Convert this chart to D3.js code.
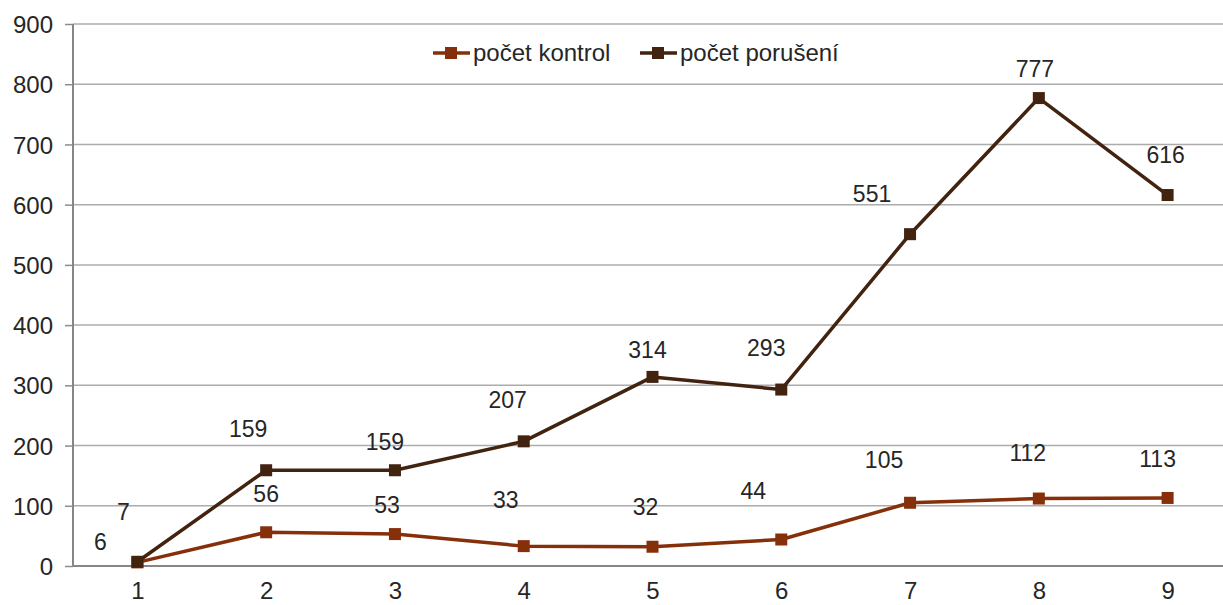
<!DOCTYPE html>
<html>
<head>
<meta charset="utf-8">
<script src="https://cdn.jsdelivr.net/npm/d3@7"></script>
<style>
  body { margin: 0; background: #fff; }
  text { font-family: "Liberation Sans", Arial, sans-serif; fill: #262626; }
</style>
</head>
<body>
<div id="chart"></div>
<script>
// data
var categories = ["1", "2", "3", "4", "5", "6", "7", "8", "9"];
var kontrol = [6, 56, 53, 33, 32, 44, 105, 112, 113];
var poruseni = [7, 159, 159, 207, 314, 293, 551, 777, 616];
var yTicks = [0, 100, 200, 300, 400, 500, 600, 700, 800, 900];

// hand placed data labels (pixel offset from the point)
var kontrolLabelOffset = [[-37, -12], [0, -30], [-8, -21], [-18, -38], [-7, -32], [-28, -41], [-26, -35], [-11, -38], [-10, -31]];
var poruseniLabelOffset = [[-14, -42], [-18, -33], [-10, -20], [-16, -33], [-5, -19], [-15, -34], [-38, -32], [-4, -21], [-2, -32]];

var svgWidth = 1223;
var svgHeight = 605;
var margin = { top: 24, right: -9, bottom: 39, left: 73 };
var width = svgWidth - margin.left - margin.right;
var height = svgHeight - margin.top - margin.bottom;

var svg = d3.select("#chart")
    .append("svg")
    .attr("width", svgWidth)
    .attr("height", svgHeight);

var chartGroup = svg.append("g")
    .attr("transform", `translate(${margin.left},${margin.top})`);

var xScale = d3.scalePoint()
    .domain(categories)
    .range([0, width])
    .padding(0.5);

var yScale = d3.scaleLinear()
    .domain([0, 900])
    .range([height, 0]);

// gridlines + y ticks
var yAxis = chartGroup.append("g")
    .call(d3.axisLeft(yScale).tickValues(yTicks).tickSize(8).tickPadding(12));
yAxis.select(".domain").remove();
yAxis.selectAll("text").style("font-size", "24px").attr("dy", "0.36em");
yAxis.selectAll(".tick line").attr("stroke", "#8c8c8c").attr("stroke-width", 1.5);

chartGroup.append("g")
    .selectAll("line")
    .data(yTicks.filter(d => d > 0))
    .enter()
    .append("line")
    .attr("x1", 0)
    .attr("x2", width)
    .attr("y1", d => yScale(d))
    .attr("y2", d => yScale(d))
    .attr("stroke", "#acacac")
    .attr("stroke-width", 1.5);

// axis lines
chartGroup.append("line")
    .attr("x1", 0).attr("x2", 0)
    .attr("y1", 0).attr("y2", height)
    .attr("stroke", "#868686").attr("stroke-width", 2);

var xAxis = chartGroup.append("g")
    .attr("transform", `translate(0,${height})`)
    .call(d3.axisBottom(xScale).tickSize(0).tickPadding(16));
xAxis.select(".domain").attr("stroke", "#868686").attr("stroke-width", 2)
    .attr("d", `M0,0H${width}`);
xAxis.selectAll("text").style("font-size", "24px");

var series = [
    { name: "počet kontrol", values: kontrol, color: "#86300b", offsets: kontrolLabelOffset },
    { name: "počet porušení", values: poruseni, color: "#42230f", offsets: poruseniLabelOffset }
];

var line = d3.line()
    .x((d, i) => xScale(categories[i]))
    .y(d => yScale(d));

series.forEach(function(s) {
    chartGroup.append("path")
        .datum(s.values)
        .attr("fill", "none")
        .attr("stroke", s.color)
        .attr("stroke-width", 3.5)
        .attr("stroke-linejoin", "round")
        .attr("d", line);

    chartGroup.selectAll(null)
        .data(s.values)
        .enter()
        .append("rect")
        .attr("x", (d, i) => xScale(categories[i]) - 6)
        .attr("y", d => yScale(d) - 6)
        .attr("width", 12)
        .attr("height", 12)
        .attr("fill", s.color);
});

// data labels
series.forEach(function(s) {
    chartGroup.selectAll(null)
        .data(s.values)
        .enter()
        .append("text")
        .attr("x", (d, i) => xScale(categories[i]) + s.offsets[i][0])
        .attr("y", (d, i) => yScale(d) + s.offsets[i][1])
        .attr("text-anchor", "middle")
        .style("font-size", "23px")
        .text(d => d);
});

// legend
var legendX = [433, 640];
var legend = svg.append("g");
series.forEach(function(s, i) {
    var g = legend.append("g").attr("transform", `translate(${legendX[i]},53)`);
    g.append("line")
        .attr("x1", 0).attr("x2", 37)
        .attr("y1", 0).attr("y2", 0)
        .attr("stroke", s.color).attr("stroke-width", 3.5);
    g.append("rect")
        .attr("x", 12).attr("y", -6)
        .attr("width", 12).attr("height", 12)
        .attr("fill", s.color);
    g.append("text")
        .attr("x", 40)
        .attr("y", 8)
        .style("font-size", "24px")
        .text(s.name);
});
</script>
</body>
</html>
